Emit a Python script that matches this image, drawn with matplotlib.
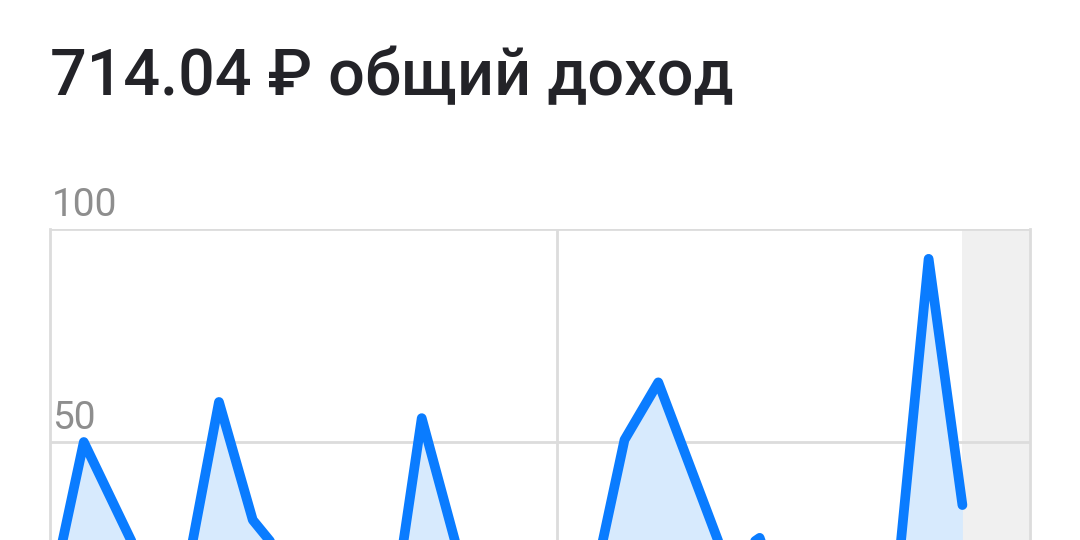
import matplotlib
matplotlib.use("Agg")
import matplotlib.pyplot as plt

plt.rcParams['font.family'] = ['Roboto', 'DejaVu Sans']

# доход по дням (₽), последний день - сегодня
days = list(range(28))
income = [13, 50, 33.5, 17, 17.4, 59.4, 31.7, 22, 3, 7.3,
          2, 55.6, 26.3, 5, 2, 3, 13.6, 50.5, 64, 43,
          22, 27.5, 5, 1, 2, 12, 93, 35.2]
total_label = "714.04 ₽ общий доход"
y_ticks = [0, 50, 100]
x_split = 15          # вертикальная линия сетки
x_max = 29            # конец оси x
future_start = 27     # серая зона справа

line_color = '#0a7cff'
fill_color = '#d7eafd'
grid_color = '#dcdcdc'

fig = plt.figure(figsize=(10.8, 5.4), dpi=100)
fig.patch.set_facecolor('white')

# ось уходит ниже края картинки, как на скриншоте
ax = fig.add_axes([50 / 1080, -115 / 540, 980 / 1080, 426 / 540])
ax.set_xlim(0, x_max)
ax.set_ylim(0, 100)

ax.axvspan(future_start, x_max, color='#f0f0f0', zorder=0, lw=0)
for v in y_ticks:
    ax.axhline(v, color=grid_color, lw=2, zorder=1)
ax.axvline(x_split, color=grid_color, lw=2, zorder=1)

ax.fill_between(days, income, 0, color=fill_color, zorder=2, lw=0)
ax.plot(days, income, color=line_color, lw=7, zorder=3,
        solid_joinstyle='round', solid_capstyle='round')

for s in ax.spines.values():
    s.set_color(grid_color)
    s.set_linewidth(2)
ax.spines['top'].set_visible(False)
ax.set_xticks([])
ax.set_yticks([])

for v in y_ticks[1:]:
    ax.annotate(str(v), xy=(0, v), xytext=(2, 13), textcoords='offset pixels',
                ha='left', va='baseline', fontsize=28, color='#8e8e8e',
                annotation_clip=False)

fig.text(50 / 1080, 1 - 95 / 540, total_label, ha='left', va='baseline',
         fontsize=46.5, fontweight='medium', color='#232328')

fig.savefig('out.png', dpi=100)
